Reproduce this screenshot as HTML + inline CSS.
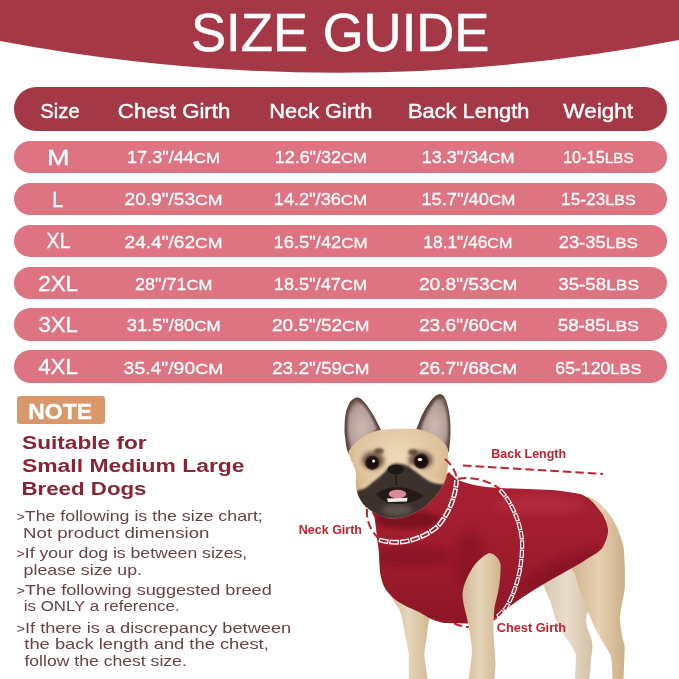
<!DOCTYPE html>
<html><head><meta charset="utf-8"><title>Size Guide</title>
<style>
html,body{margin:0;padding:0;}
body{width:679px;height:679px;position:relative;overflow:hidden;background:#fff;font-family:"Liberation Sans",sans-serif;}
.abs{position:absolute;}
.t{position:absolute;left:0;top:0;line-height:1;white-space:nowrap;transform-origin:0 0;}
.row{position:absolute;left:14px;width:653px;height:32.6px;border-radius:17px;background:#de7381;}
#hrow{position:absolute;left:14px;top:87px;width:653px;height:43.7px;border-radius:22px;background:#a53847;}
#note{position:absolute;left:17px;top:396.3px;width:88px;height:28.2px;background:#d9986c;border-radius:3px;}
</style></head><body>
<svg class="abs" style="left:0;top:0" width="679" height="80" viewBox="0 0 679 80"><path d="M0 0H679V40Q340 105 0 41Z" fill="#a53847"/></svg>
<div id="hrow"></div>
<div class="row" style="top:140.6px"></div><div class="row" style="top:182.7px"></div><div class="row" style="top:224.6px"></div><div class="row" style="top:266.5px"></div><div class="row" style="top:308.1px"></div><div class="row" style="top:350px"></div>
<div id="note"></div>
<svg class="abs" style="left:0;top:0" width="679" height="679" viewBox="0 0 679 679">
<defs>
<filter id="b1" x="-20%" y="-20%" width="140%" height="140%"><feGaussianBlur stdDeviation="1"/></filter>
<filter id="b2" x="-20%" y="-20%" width="140%" height="140%"><feGaussianBlur stdDeviation="2.2"/></filter>
<filter id="b4" x="-30%" y="-30%" width="160%" height="160%"><feGaussianBlur stdDeviation="4"/></filter>
<linearGradient id="gShirt" x1="0" y1="0" x2="0" y2="1"><stop offset="0" stop-color="#a82133"/><stop offset=".45" stop-color="#a11d2e"/><stop offset="1" stop-color="#8e1626"/></linearGradient>
<linearGradient id="gLeg" x1="0" y1="0" x2="1" y2="0"><stop offset="0" stop-color="#d0b694"/><stop offset=".45" stop-color="#e7d6b9"/><stop offset="1" stop-color="#ceb38f"/></linearGradient>
<radialGradient id="gHead" cx=".5" cy=".3" r=".7"><stop offset="0" stop-color="#eed9b8"/><stop offset=".6" stop-color="#dfc39d"/><stop offset="1" stop-color="#c39c72"/></radialGradient>
<clipPath id="cShirt"><path id="pShirt" d="M372,508 C371,512 373,515 374.5,517 C375.5,524 376.5,531 377,538 C377.8,543 378.5,548 379,553 C379.3,560 379.5,566 380,572 C381,579 383,585 385.7,589.6 C389,594 393,598 397,601 C404,605.5 412,609 420,612.5 C427,617 435,621.5 444,623 L467,623.5 C477,622.5 487,620.5 496,617.5 C505,610 514,603 523,597 C531,591.5 539,586.5 547,582 L579,564 C583,561.5 587,559 590,557 C596,553.5 601,550.5 603,547 C606,541 608.5,535 608,529 C607,523 605,519 603,515 C601,512 599,509.5 597,507 C594,503 591,500 588,498 C584,495.5 582,494.5 580,494 C571,492 562,491 552,490 L500,488 C489,487.5 479,486.5 470,484 C463,482 458,480 456,479 L449,472 L420,500 Z"/></clipPath>
<clipPath id="cHead"><path id="pHead" d="M348.4,453 C350,445 365,433 380,430 C392,428.5 405,428.5 417,429 C432,432 445,440 448,449.3 C448.5,458 448,468 447,474.2 C445,485 437,496 425,506.7 C418,512 412,514.4 405,516.5 C398,519 390,519.5 383,516.7 C376,514.5 370,510 365.6,506.7 C361,502 358,496 357,491.4 C355.5,486 355.7,480 356,476 C356,470 353,463 351.3,460.8 Z"/></clipPath>
<linearGradient id="gLegFar" x1="0" y1="0" x2="1" y2="0"><stop offset="0" stop-color="#d8c7b0"/><stop offset=".5" stop-color="#e9dccb"/><stop offset="1" stop-color="#d3bfa5"/></linearGradient>
<linearGradient id="gLegNear" gradientUnits="userSpaceOnUse" x1="572" y1="0" x2="626" y2="0"><stop offset="0" stop-color="#d2b590"/><stop offset=".5" stop-color="#e5d0b0"/><stop offset="1" stop-color="#cbad86"/></linearGradient>
<radialGradient id="gEar" cx=".5" cy=".55" r=".6"><stop offset="0" stop-color="#cfbab3"/><stop offset=".75" stop-color="#b39d97"/><stop offset="1" stop-color="#7d6761"/></radialGradient>
</defs>
<!-- far hind leg -->
<path d="M542,582 L575,562 L588,611 C585.5,618 586,622 587,627 C589,633 591,637 592,642 C593,648 592,652 591,658 L589.5,679 L575,679 L576,655 C574,650 572,646 570,643 C565,637 561,631 558.7,626 C555,618 553,611 551,603 Z" fill="url(#gLegFar)"/>
<!-- rump + near hind leg -->
<path d="M586,497 C592,496 600,503 606,510 C613,518 618,528 621,538 C623.5,545 624,549 624,552 C625,565 625,578 624.8,588 C623.5,598 621,607 620,616.6 C620,623 621,630 622,636 C623,640 624.5,644 624.8,647 L623.5,679 L612.5,679 L612,668 C612,662 611.5,658 610.4,655 C608,650 606,647 603.7,643.4 C600,638 597.5,633 595,628 C592,622 590,616 587.4,611 C584.5,604 582,597 579.8,590 L575,574.5 L570,565 L595,545 Z" fill="url(#gLegNear)"/>
<!-- far front leg -->
<path d="M387,588 C390,596 396,604 399.6,610 C402,617 403.5,625 404.7,632.8 C406,640 408,648 408.9,655.5 L408.9,679 L427.4,679 L424.3,655.5 C424.5,650 425.5,644 426.4,639 C427,633 428,627 428.5,622.5 L434,608 Z" fill="url(#gLeg)"/>
<!-- shirt -->
<path d="M372,508 C371,512 373,515 374.5,517 C375.5,524 376.5,531 377,538 C377.8,543 378.5,548 379,553 C379.3,560 379.5,566 380,572 C381,579 383,585 385.7,589.6 C389,594 393,598 397,601 C404,605.5 412,609 420,612.5 C427,617 435,621.5 444,623 L467,623.5 C477,622.5 487,620.5 496,617.5 C505,610 514,603 523,597 C531,591.5 539,586.5 547,582 L579,564 C583,561.5 587,559 590,557 C596,553.5 601,550.5 603,547 C606,541 608.5,535 608,529 C607,523 605,519 603,515 C601,512 599,509.5 597,507 C594,503 591,500 588,498 C584,495.5 582,494.5 580,494 C571,492 562,491 552,490 L500,488 C489,487.5 479,486.5 470,484 C463,482 458,480 456,479 L449,472 L420,500 Z" fill="url(#gShirt)"/>
<g clip-path="url(#cShirt)">
 <ellipse cx="412" cy="556" rx="40" ry="9" fill="#7c1120" opacity=".55" filter="url(#b4)"/>
 <ellipse cx="470" cy="560" rx="14" ry="30" fill="#7c1120" opacity=".45" filter="url(#b4)"/>
 <ellipse cx="540" cy="505" rx="45" ry="10" fill="#c2394a" opacity=".45" filter="url(#b4)"/>
 <ellipse cx="560" cy="570" rx="45" ry="10" fill="#7c1120" opacity=".45" filter="url(#b4)" transform="rotate(-28 560 570)"/>
 <ellipse cx="408" cy="520" rx="34" ry="9" fill="#6f0e1c" opacity=".7" filter="url(#b2)"/>
</g>
<path d="M497,617 C485,628 465,631 449,620.5" fill="none" stroke="#c3222d" stroke-width="2" stroke-dasharray="8.5 4"/>
<!-- near front leg -->
<path d="M489.3,553 C482,556 475,563 470.7,571 C466,579 463,587 462.5,593.6 C462.5,599 463.5,604 464.5,608 C466,614 467.5,620 468.7,626.6 C470,634 471,641 471.8,647.2 C472,653 471.5,658 470.7,663.7 L468.7,679 L494.4,679 L495.5,663.7 C495.2,658 494.6,652 494.4,647.2 C493.8,640 493.4,633 493.4,626.6 C493.5,620 494,614 494.4,608 C495.5,602 497.5,596 498.6,589.5 C500,581 500.8,573 500.6,564.7 C499.5,559 495,553.5 489.3,553 Z" fill="url(#gLeg)"/>
<!-- ears -->
<path d="M349,455 C346.5,449 345.5,444 345.5,439.7 C344.6,435 344.3,431 344.6,426.3 C344.6,422 345,418 345.5,414.8 C346,411 347,408 348.4,405.2 C349.5,402.5 351,400.5 353.2,399.1 C354.5,398 356,397.4 358,397.6 C360,398 362,399.5 363.7,401.4 C366,404 368,406.5 369.5,409.1 C371.5,412 373.5,415.5 375.2,418.6 C377,422 379,426 382,432 L362,446 Z" fill="#5b4740"/>
<path d="M350.5,450 C347.8,440 346.8,428 347.8,417 C348.8,409 351.5,402 356.8,400.8 C361.5,402 366,408 369.5,414 C372,418.5 374.5,423.5 377,429 L358,445 Z" fill="url(#gEar)" filter="url(#b1)"/>
<path d="M416,430 C418,425 419.5,421 421.2,416.7 C423,413 425,409.5 426.9,406.2 C428.5,403.5 430.5,401 432.6,398.5 C434.5,396.5 436.5,395 439.3,394.1 C441,393.8 442.8,394.8 444.1,396.6 C446,400 447.2,403.5 448,407.1 C449,411 449.5,415 449.9,418.6 C450.4,423 450.6,427.5 450.5,432 C450.4,438 449.8,444 448.9,452 L430,442 Z" fill="#5b4740"/>
<path d="M420.5,430 C424,419 429.5,408 435.5,400.5 C438.5,397.5 442,397 444,400 C446.8,408 448.2,420 448.2,431 C448.2,438 447.5,444 446.5,448 L431,440 Z" fill="url(#gEar)" filter="url(#b1)"/>
<!-- head -->
<path d="M348.4,453 C350,445 365,433 380,430 C392,428.5 405,428.5 417,429 C432,432 445,440 448,449.3 C448.5,458 448,468 447,474.2 C445,485 437,496 425,506.7 C418,512 412,514.4 405,516.5 C398,519 390,519.5 383,516.7 C376,514.5 370,510 365.6,506.7 C361,502 358,496 357,491.4 C355.5,486 355.7,480 356,476 C356,470 353,463 351.3,460.8 Z" fill="url(#gHead)"/>
<g clip-path="url(#cHead)">
 <path d="M355,492 C359,490 362,489.5 364.7,488.6 C367.5,487 370,484.5 372,482.7 L379.5,476.8 C382,474.5 384.5,472 386.8,469.5 C389,466 392,463.8 395.7,463.6 C400,463.4 405,464.5 408.9,466.5 C411.5,468 414,470 416.3,471.7 L423.6,477.6 C426.5,479.8 429.5,481.6 432.5,482.7 C435.5,483.6 438.5,484 441.3,484.2 L448,484 C443,498 427,510 410,516 C400,520 386,520 375,515 C364,509 356,500 355,492 Z" fill="#3a302e" filter="url(#b1)"/>
 <ellipse cx="373" cy="460.5" rx="11" ry="9" fill="#5a4136" opacity=".85" filter="url(#b2)"/>
 <ellipse cx="420.5" cy="460" rx="12" ry="9" fill="#5a4136" opacity=".85" filter="url(#b2)"/>
 <ellipse cx="379" cy="451" rx="5" ry="3" fill="#4e392f" opacity=".8" filter="url(#b1)"/>
 <ellipse cx="413" cy="452" rx="5" ry="3" fill="#4e392f" opacity=".8" filter="url(#b1)"/>
 <path d="M360,487 C366,484 374,478 384,469" stroke="#e6cba6" stroke-width="3" fill="none" filter="url(#b1)" opacity=".9"/>
 <path d="M443,481.5 C434,481 424,475 411,465.5" stroke="#e6cba6" stroke-width="3" fill="none" filter="url(#b1)" opacity=".9"/>
</g>
<circle cx="372.3" cy="462.7" r="7.2" fill="#3a2a22"/><circle cx="372.3" cy="462.7" r="5.8" fill="#1c100c"/><circle cx="373.6" cy="461" r="1.5" fill="#fff"/>
<circle cx="421.2" cy="461.2" r="7.6" fill="#3a2a22"/><circle cx="421.2" cy="461.2" r="6.2" fill="#1c100c"/><ellipse cx="420" cy="459.6" rx="2.4" ry="1.5" fill="#fff"/>
<ellipse cx="397" cy="510" rx="15" ry="6" fill="#6a5e58" opacity=".7" filter="url(#b2)"/>
<ellipse cx="395.8" cy="469.6" rx="8.2" ry="4.8" fill="#1d1919"/>
<path d="M396,475 L396.5,485" stroke="#1d1919" stroke-width="1.5"/>
<path d="M376,494 C383,489 391,486.5 397,487.5 C404,486.5 413,489 424,496 C417,501 407,504 397.5,504 C389,504 382,501 376,494 Z" fill="#241a1a"/>
<ellipse cx="397.5" cy="494" rx="8.8" ry="4.2" fill="#d98b9a"/>
<path d="M387,498.4 L407.5,497.8 L407,501.6 L388,502 Z" fill="#f1ebe3"/>
<!-- dashed guides -->
<g fill="none" stroke="#c3222d" stroke-width="2" stroke-dasharray="8.5 4">
 <path d="M463,465.5 L603,474"/>
 <path d="M458,479 C470,476 488,480 500,489"/>
 <path d="M445,459 C452,465 456,472 457,479"/>
 <path d="M379,539 C370,530 366,520 367,508"/>
</g>
<g fill="none" stroke-linecap="butt">
 <path id="ch1" d="M456.5,480 C456,495 450,512 438,526 C425,538 400,547 378.5,539.5" stroke="#fff" stroke-width="4.8" stroke-dasharray="9.6 1" stroke-dashoffset="2"/>
 <path d="M456.5,480 C456,495 450,512 438,526 C425,538 400,547 378.5,539.5" stroke="#a51e2f" stroke-width="2" stroke-dasharray="7 3.6" stroke-dashoffset="0.7"/>
 <path d="M500,490 C510,500 520,520 522,540 C523,565 517,590 505.5,608.6 L497.5,616.6" stroke="#fff" stroke-width="4.2" stroke-dasharray="8.4 .9"/>
 <path d="M500,490 C510,500 520,520 522,540 C523,565 517,590 505.5,608.6 L497.5,616.6" stroke="#a51e2f" stroke-width="1.8" stroke-dasharray="6 3.3" stroke-dashoffset="-1.2"/>
</g>
</svg>

<div class="t" style="font-size:53.6px;-webkit-text-stroke-width:.5px;color:#fff;transform:translate(190.96px,6.35px) scaleX(0.9826)">SIZE GUIDE</div>
<div class="t" style="font-size:20.6px;-webkit-text-stroke-width:.4px;color:#fff;transform:translate(40.28px,101.25px) scaleX(0.9835)">Size</div>
<div class="t" style="font-size:20.6px;-webkit-text-stroke-width:.4px;color:#fff;transform:translate(117.86px,101.25px) scaleX(1.0798)">Chest Girth</div>
<div class="t" style="font-size:20.6px;-webkit-text-stroke-width:.4px;color:#fff;transform:translate(269.33px,101.25px) scaleX(1.0595)">Neck Girth</div>
<div class="t" style="font-size:20.6px;-webkit-text-stroke-width:.4px;color:#fff;transform:translate(407.92px,101.25px) scaleX(1.0615)">Back Length</div>
<div class="t" style="font-size:20.6px;-webkit-text-stroke-width:.4px;color:#fff;transform:translate(563.34px,101.25px) scaleX(1.0935)">Weight</div>
<div class="t" style="font-size:22.5px;-webkit-text-stroke-width:.3px;color:#fff;transform:translate(46.99px,146.55px) scaleX(1.2010)">M</div>
<div class="t" style="font-size:16.6px;-webkit-text-stroke-width:.3px;color:#fff;transform:translate(127.03px,150.35px) scaleX(1.0894)">17.3"/44<span style="font-size:.93em">CM</span></div>
<div class="t" style="font-size:16.6px;-webkit-text-stroke-width:.3px;color:#fff;transform:translate(274.69px,150.35px) scaleX(1.0816)">12.6"/32<span style="font-size:.93em">CM</span></div>
<div class="t" style="font-size:16.6px;-webkit-text-stroke-width:.3px;color:#fff;transform:translate(421.66px,150.35px) scaleX(1.0887)">13.3"/34<span style="font-size:.93em">CM</span></div>
<div class="t" style="font-size:16.6px;-webkit-text-stroke-width:.3px;color:#fff;transform:translate(562.95px,150.35px) scaleX(0.9868)">10-15<span style="font-size:.93em">LBS</span></div>
<div class="t" style="font-size:22.5px;-webkit-text-stroke-width:.3px;color:#fff;transform:translate(52.36px,188.55px) scaleX(0.8851)">L</div>
<div class="t" style="font-size:16.6px;-webkit-text-stroke-width:.3px;color:#fff;transform:translate(124.57px,192.35px) scaleX(1.1502)">20.9"/53<span style="font-size:.93em">CM</span></div>
<div class="t" style="font-size:16.6px;-webkit-text-stroke-width:.3px;color:#fff;transform:translate(273.80px,192.35px) scaleX(1.0946)">14.2"/36<span style="font-size:.93em">CM</span></div>
<div class="t" style="font-size:16.6px;-webkit-text-stroke-width:.3px;color:#fff;transform:translate(421.39px,192.35px) scaleX(1.1019)">15.7"/40<span style="font-size:.93em">CM</span></div>
<div class="t" style="font-size:16.6px;-webkit-text-stroke-width:.3px;color:#fff;transform:translate(561.10px,192.35px) scaleX(1.0405)">15-23<span style="font-size:.93em">LBS</span></div>
<div class="t" style="font-size:22.5px;-webkit-text-stroke-width:.3px;color:#fff;transform:translate(46.60px,230.15px) scaleX(0.8703)">XL</div>
<div class="t" style="font-size:16.6px;-webkit-text-stroke-width:.3px;color:#fff;transform:translate(124.57px,234.95px) scaleX(1.1502)">24.4"/62<span style="font-size:.93em">CM</span></div>
<div class="t" style="font-size:16.6px;-webkit-text-stroke-width:.3px;color:#fff;transform:translate(273.62px,234.95px) scaleX(1.1042)">16.5"/42<span style="font-size:.93em">CM</span></div>
<div class="t" style="font-size:16.6px;-webkit-text-stroke-width:.3px;color:#fff;transform:translate(423.35px,234.95px) scaleX(1.0446)">18.1"/46<span style="font-size:.93em">CM</span></div>
<div class="t" style="font-size:16.6px;-webkit-text-stroke-width:.3px;color:#fff;transform:translate(558.70px,234.95px) scaleX(1.1066)">23-35<span style="font-size:.93em">LBS</span></div>
<div class="t" style="font-size:22.5px;-webkit-text-stroke-width:.3px;color:#fff;transform:translate(38.13px,272.75px) scaleX(0.9987)">2XL</div>
<div class="t" style="font-size:16.6px;-webkit-text-stroke-width:.3px;color:#fff;transform:translate(135.08px,276.55px) scaleX(1.0823)">28"/71<span style="font-size:.93em">CM</span></div>
<div class="t" style="font-size:16.6px;-webkit-text-stroke-width:.3px;color:#fff;transform:translate(273.80px,276.55px) scaleX(1.0946)">18.5"/47<span style="font-size:.93em">CM</span></div>
<div class="t" style="font-size:16.6px;-webkit-text-stroke-width:.3px;color:#fff;transform:translate(418.91px,276.55px) scaleX(1.1550)">20.8"/53<span style="font-size:.93em">CM</span></div>
<div class="t" style="font-size:16.6px;-webkit-text-stroke-width:.3px;color:#fff;transform:translate(558.21px,276.55px) scaleX(1.1293)">35-58<span style="font-size:.93em">LBS</span></div>
<div class="t" style="font-size:22.5px;-webkit-text-stroke-width:.3px;color:#fff;transform:translate(38.41px,314.35px) scaleX(0.9884)">3XL</div>
<div class="t" style="font-size:16.6px;-webkit-text-stroke-width:.3px;color:#fff;transform:translate(126.79px,318.15px) scaleX(1.1004)">31.5"/80<span style="font-size:.93em">CM</span></div>
<div class="t" style="font-size:16.6px;-webkit-text-stroke-width:.3px;color:#fff;transform:translate(272.03px,318.15px) scaleX(1.1440)">20.5"/52<span style="font-size:.93em">CM</span></div>
<div class="t" style="font-size:16.6px;-webkit-text-stroke-width:.3px;color:#fff;transform:translate(418.91px,318.15px) scaleX(1.1550)">23.6"/60<span style="font-size:.93em">CM</span></div>
<div class="t" style="font-size:16.6px;-webkit-text-stroke-width:.3px;color:#fff;transform:translate(557.65px,318.15px) scaleX(1.1351)">58-85<span style="font-size:.93em">LBS</span></div>
<div class="t" style="font-size:22.5px;-webkit-text-stroke-width:.3px;color:#fff;transform:translate(38.14px,355.95px) scaleX(0.9905)">4XL</div>
<div class="t" style="font-size:16.6px;-webkit-text-stroke-width:.3px;color:#fff;transform:translate(123.60px,360.75px) scaleX(1.1687)">35.4"/90<span style="font-size:.93em">CM</span></div>
<div class="t" style="font-size:16.6px;-webkit-text-stroke-width:.3px;color:#fff;transform:translate(272.03px,360.75px) scaleX(1.1440)">23.2"/59<span style="font-size:.93em">CM</span></div>
<div class="t" style="font-size:16.6px;-webkit-text-stroke-width:.3px;color:#fff;transform:translate(418.95px,360.75px) scaleX(1.1511)">26.7"/68<span style="font-size:.93em">CM</span></div>
<div class="t" style="font-size:16.6px;-webkit-text-stroke-width:.3px;color:#fff;transform:translate(555.33px,360.75px) scaleX(1.0642)">65-120<span style="font-size:.93em">LBS</span></div>
<div class="t" style="font-size:22.3px;font-weight:bold;-webkit-text-stroke-width:.3px;color:#fff;transform:translate(28.13px,400.75px) scaleX(1.0325)">NOTE</div>
<div class="t" style="font-size:18.8px;font-weight:bold;color:#8b2333;transform:translate(22.01px,434.20px) scaleX(1.2069)">Suitable for</div>
<div class="t" style="font-size:18.8px;font-weight:bold;color:#8b2333;transform:translate(21.99px,457.20px) scaleX(1.2185)">Small Medium Large</div>
<div class="t" style="font-size:18.8px;font-weight:bold;color:#8b2333;transform:translate(21.48px,480.20px) scaleX(1.1860)">Breed Dogs</div>
<div class="t" style="font-size:15px;color:#6b4146;transform:translate(16.48px,507.82px) scaleX(1.1846)"><span style="font-size:.8em;position:relative;top:-.04em">&gt;</span>The following is the size chart;</div>
<div class="t" style="font-size:15px;color:#6b4146;transform:translate(23.09px,524.60px) scaleX(1.2410)">Not product dimension</div>
<div class="t" style="font-size:15px;color:#6b4146;transform:translate(16.49px,545.22px) scaleX(1.1751)"><span style="font-size:.8em;position:relative;top:-.04em">&gt;</span>If your dog is between sizes,</div>
<div class="t" style="font-size:15px;color:#6b4146;transform:translate(23.60px,561.60px) scaleX(1.1838)">please size up.</div>
<div class="t" style="font-size:15px;color:#6b4146;transform:translate(16.46px,582.02px) scaleX(1.2079)"><span style="font-size:.8em;position:relative;top:-.04em">&gt;</span>The following suggested breed</div>
<div class="t" style="font-size:15px;color:#6b4146;transform:translate(23.86px,598.42px) scaleX(1.1229)">is ONLY a reference.</div>
<div class="t" style="font-size:15px;color:#6b4146;transform:translate(16.45px,620.02px) scaleX(1.2141)"><span style="font-size:.8em;position:relative;top:-.04em">&gt;</span>If there is a discrepancy between</div>
<div class="t" style="font-size:15px;color:#6b4146;transform:translate(24.34px,636.20px) scaleX(1.2214)">the back length and the chest,</div>
<div class="t" style="font-size:15px;color:#6b4146;transform:translate(24.41px,652.80px) scaleX(1.1732)">follow the chest size.</div>
<div class="t" style="font-size:12.8px;font-weight:bold;color:#c3222d;transform:translate(491.36px,448.40px) scaleX(0.9727)">Back Length</div>
<div class="t" style="font-size:12.8px;font-weight:bold;color:#c3222d;transform:translate(298.84px,524.00px) scaleX(0.9756)">Neck Girth</div>
<div class="t" style="font-size:12.8px;font-weight:bold;color:#c3222d;transform:translate(496.72px,621.80px) scaleX(0.9966)">Chest Girth</div>
</body></html>
